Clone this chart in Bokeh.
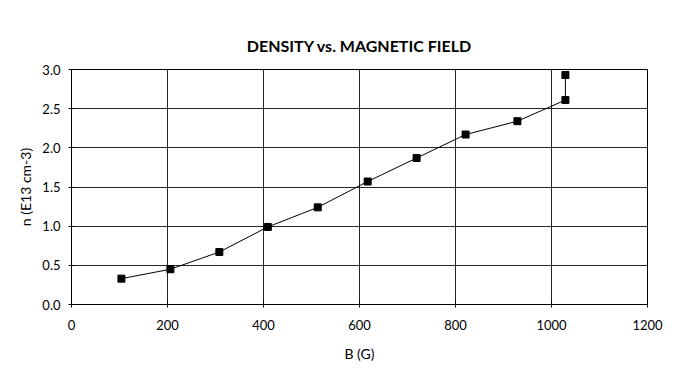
from bokeh.plotting import figure
from bokeh.models import Range1d, FixedTicker, Title, CustomJSTickFormatter
from bokeh.embed import file_html
from bokeh.resources import INLINE

# Data
b_field = [104, 206, 308, 409, 513, 617, 719, 821, 929, 1029, 1029]
density = [0.33, 0.45, 0.67, 0.99, 1.24, 1.57, 1.87, 2.17, 2.34, 2.61, 2.93]

x_ticks = [0, 200, 400, 600, 800, 1000, 1200]
y_ticks = [0.0, 0.5, 1.0, 1.5, 2.0, 2.5, 3.0]
title_text = "DENSITY vs. MAGNETIC FIELD"

FONT = "Lato"

p = figure(width=669, height=364, output_backend="svg", toolbar_location=None,
           x_range=Range1d(0, 1200), y_range=Range1d(0, 3.0),
           min_border_left=71, min_border_right=22, min_border_top=69, min_border_bottom=49)
p.title = None

# invisible spacer panel next to the frame, then the real title above it
p.add_layout(Title(text=" ", text_font_size="4px", text_alpha=0, standoff=18), "above")
p.add_layout(Title(text=title_text, align="center", vertical_align="top",
                   text_font=FONT, text_font_size="16px", text_font_style="bold",
                   text_color="black", standoff=26), "above")

p.line(b_field, density, line_color="black", line_width=1)
p.scatter(b_field, density, marker="square", size=7, fill_color="black", line_color="black")

p.xaxis.ticker = FixedTicker(ticks=x_ticks)
p.yaxis.ticker = FixedTicker(ticks=y_ticks)
p.yaxis.formatter = CustomJSTickFormatter(code="return tick.toFixed(1);")

for ax in (p.xaxis[0], p.yaxis[0]):
    ax.axis_line_color = None
    ax.major_tick_line_color = "black"
    ax.major_tick_in = 3
    ax.major_tick_out = 3
    ax.minor_tick_line_color = None
    ax.major_label_text_font = FONT
    ax.major_label_text_font_size = "13px"
    ax.major_label_text_color = "black"
    ax.axis_label_text_font = FONT
    ax.axis_label_text_font_size = "14px"
    ax.axis_label_text_font_style = "normal"
    ax.axis_label_text_color = "black"

p.xaxis.axis_label = "B (G)"
p.yaxis.axis_label = "n (E13 cm-3)"
p.xaxis.major_label_standoff = 12
p.xaxis.axis_label_standoff = 12
p.yaxis.major_label_standoff = 8
p.yaxis.axis_label_standoff = 5

p.grid.grid_line_color = "black"
p.grid.grid_line_alpha = 0.85
p.grid.grid_line_width = 1
p.outline_line_color = "black"
p.outline_line_width = 1
p.background_fill_color = "white"
p.border_fill_color = "white"

open("out.html", "w").write(file_html(p, INLINE))
